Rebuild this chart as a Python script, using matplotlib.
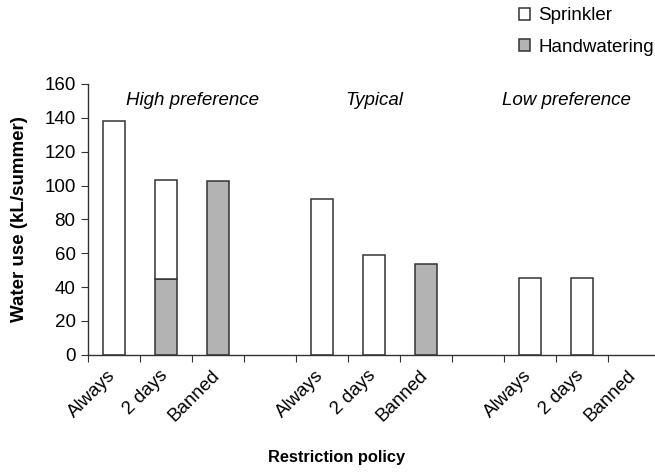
import numpy as np
import matplotlib.pyplot as plt
from matplotlib.ticker import FixedLocator
from matplotlib.transforms import ScaledTranslation

plt.rcParams['font.family'] = ['Liberation Sans', 'DejaVu Sans']

# data
groups = ["High preference", "Typical", "Low preference"]
policies = ["Always", "2 days", "Banned"]
sprinkler = [138, 58.5, 0, 92.3, 58.7, 0, 45.6, 45.6, 0]
handwater = [0, 44.8, 102.7, 0, 0, 53.5, 0, 0, 0]

# positions: three bars per group, one empty slot between groups
pos = np.array([0, 1, 2, 4, 5, 6, 8, 9, 10])
edge = "#333333"
grey = "#b3b3b3"
fs = 13.5

fig = plt.figure(figsize=(6.55, 4.72), dpi=100)
ax = fig.add_axes([88 / 655, 1 - 354.7 / 472, 572 / 655, 270.7 / 472])

hw = np.array(handwater)
sp = np.array(sprinkler)
hw_mask = hw > 0
sp_mask = sp > 0
b_hand = ax.bar(pos[hw_mask], hw[hw_mask], width=0.41, color=grey,
                edgecolor=edge, linewidth=1.1, label="Handwatering")
b_spr = ax.bar(pos[sp_mask], sp[sp_mask], width=0.41, bottom=hw[sp_mask],
               color="white", edgecolor=edge, linewidth=1.1, label="Sprinkler")

ax.set_xlim(-0.5, 10.5)
ax.set_ylim(0, 160)
ax.set_yticks(range(0, 161, 20))
ax.spines['top'].set_visible(False)
ax.spines['right'].set_visible(False)
for s in ['left', 'bottom']:
    ax.spines[s].set_color(edge)
    ax.spines[s].set_linewidth(1.0)

# boundary ticks on the x axis, labels at slot centres
ax.xaxis.set_major_locator(FixedLocator(np.arange(-0.5, 10.6, 1)))
ax.xaxis.set_major_formatter(plt.NullFormatter())
ax.set_xticks(pos, minor=True)
ax.set_xticklabels([p for g in groups for p in policies], minor=True,
                   rotation=45, ha='right', rotation_mode='anchor', fontsize=fs)
ax.tick_params(axis='x', which='minor', length=0, pad=6)
ax.tick_params(axis='x', which='major', length=5, color=edge, direction='out')
ax.tick_params(axis='y', length=5, color=edge, labelsize=fs, pad=4)
shift = ScaledTranslation(-7 / 100, -4 / 100, fig.dpi_scale_trans)
for lab in ax.get_xticklabels(minor=True):
    lab.set_transform(lab.get_transform() + shift)

for g, xc in zip(groups, [1.5, 5.0, 8.7]):
    ax.text(xc, 150, g, ha='center', va='center', style='italic', fontsize=fs)

ax.set_ylabel("Water use (kL/summer)", fontsize=fs, fontweight='bold')
ax.yaxis.set_label_coords(-0.105, 0.5)
ax.set_xlabel("Restriction policy", fontsize=11.8, fontweight='bold')
ax.xaxis.set_label_coords(0.435, -0.352)

fig.legend(handles=[b_spr, b_hand], labels=["Sprinkler", "Handwatering"],
           loc='upper left', bbox_to_anchor=(511 / 655, 1.0), frameon=False,
           fontsize=fs, handlelength=0.6, handleheight=0.6, handletextpad=0.45,
           labelspacing=0.75, borderaxespad=0.0)

fig.savefig("out.png", dpi=100)
